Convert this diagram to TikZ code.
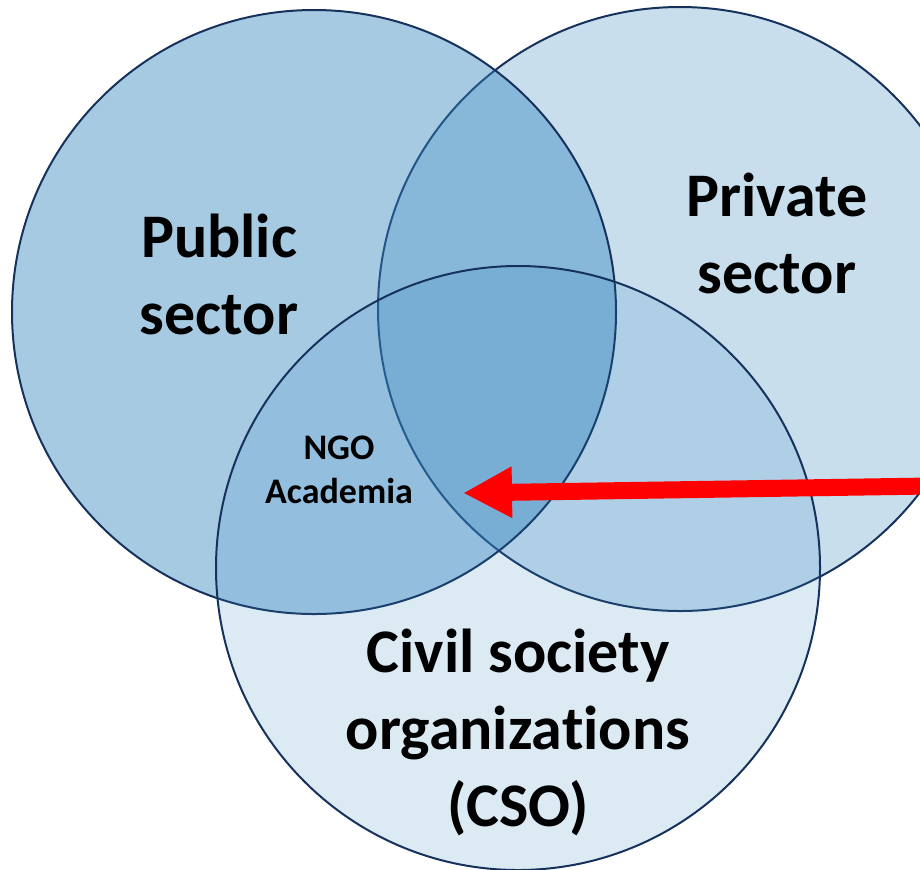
\documentclass[tikz,border=0pt]{standalone}
\usepackage{fontspec}
\setmainfont{Carlito}[Ligatures=NoCommon]
\usetikzlibrary{arrows.meta}

\definecolor{vennblue}{RGB}{50,132,190}
\definecolor{vennline}{RGB}{22,50,92}

\tikzset{
  sector/.style={circle, draw=vennline, line width=1pt, fill=vennblue,
    minimum size=302pt, inner sep=0pt},
  biglabel/.style={anchor=base, align=center,
    font=\fontsize{31}{38.5}\selectfont\bfseries},
  smalllabel/.style={anchor=base, align=center,
    font=\fontsize{18}{22}\selectfont\bfseries},
  pointer/.style={draw=red, line width=8.5pt,
    -{Triangle[length=24.5pt,width=24pt]}}
}

\begin{document}
\begin{tikzpicture}[x=0.5pt,y=-0.5pt]
  \useasboundingbox (0,0) rectangle (920,869);
  \clip (0,0) rectangle (920,869);

  % the three sectors
  \node[sector, fill opacity=0.27] (private) at (680,309) {};
  \node[sector, fill opacity=0.43] (public)  at (314,312) {};
  \node[sector, fill opacity=0.17] (cso)     at (518,568) {};

  % labels (anchored at the last baseline)
  \node[biglabel] (publictext)  at (219,334) {Public\\sector};
  \node[biglabel] (privatetext) at (777,293) {Private\\sector};
  \node[biglabel] (csotext)     at (518,826) {Civil society\\organizations\\(CSO)};
  \node[smalllabel] (ngo)       at (339,503) {NGO\\Academia};

  % arrow to the common area
  \coordinate (tail) at (930,486);
  \coordinate (tip)  at (463,493);
  \draw[pointer] (tail) -- (tip);
\end{tikzpicture}
\end{document}
